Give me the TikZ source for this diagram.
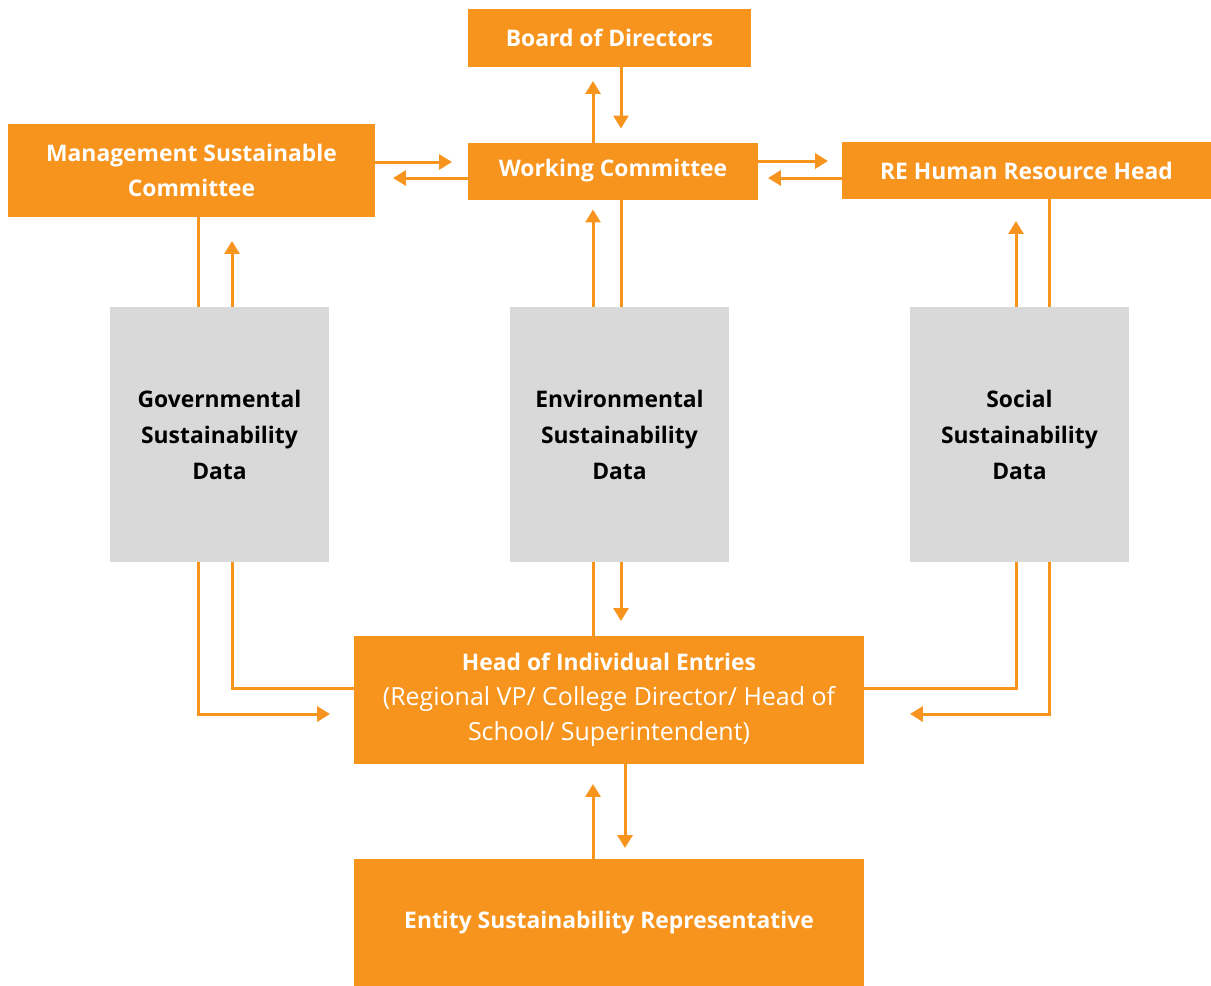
\documentclass[tikz,border=0pt]{standalone}
\usepackage{fontspec}
\setmainfont{Open Sans}[Ligatures=NoCommon]
\usetikzlibrary{arrows.meta,positioning}
\definecolor{reorange}{HTML}{F7941D}
\definecolor{regrey}{HTML}{D9D9D9}
\newcommand{\plainline}{\mdseries\fontsize{14.2}{20}\selectfont}
\tikzset{
  basic/.style  = {rectangle, inner sep=0pt, outer sep=0pt, align=center, font=\fontsize{13}{20}\selectfont},
  unit/.style   = {basic, fill=reorange, text=white, font=\fontsize{13}{20}\selectfont\bfseries},
  data/.style   = {basic, fill=regrey, text=black, font=\fontsize{13}{20.5}\selectfont\bfseries,
                   minimum width=4.38cm, minimum height=5.1cm},
  link/.style   = {draw=reorange, line width=0.06cm},
  flow/.style   = {link, -{Triangle[length=0.26cm,width=0.3cm]}}
}

\begin{document}
\begin{tikzpicture}[x=0.02cm,y=-0.02cm]
  \useasboundingbox (0,0) rectangle (1211,985);

  \node[unit, minimum width=5.66cm, minimum height=1.16cm] (board) at (609.5,38) {Board of Directors};
  \node[unit, minimum width=5.8cm, minimum height=1.14cm] (wc) at (613,171) {Working Committee};
  \node[unit, minimum width=7.34cm, minimum height=1.86cm] (msc) at (191.5,170.5) {Management Sustainable\\Committee};
  \node[unit, minimum width=7.38cm, minimum height=1.14cm] (hr) at (1026.5,170.5) {RE Human Resource Head};

  \node[data] (gov) at (219.5,434.5) {Governmental\\Sustainability\\Data};
  \node[data] (env) at (619.5,434.5) {Environmental\\Sustainability\\Data};
  \node[data] (soc) at (1019.5,434.5) {Social\\Sustainability\\Data};

  \node[unit, minimum width=10.2cm, minimum height=2.56cm] (head) at (609,700)
    {Head of Individual Entries\\\plainline(Regional VP/ College Director/ Head of\\\plainline School/ Superintendent)};
  \node[unit, minimum width=10.2cm, minimum height=2.54cm] (entity) at (609,922.5) {Entity Sustainability Representative};

  % top block
  \draw[flow, shorten >=0.28cm] (wc.north -| 593,0) -- (board.south -| 593,0);
  \draw[flow, shorten >=0.28cm] (board.south -| 621,0) -- (wc.north -| 621,0);
  \draw[flow, shorten >=0.32cm] (msc.east |- 0,162) -- (wc.west |- 0,162);
  \draw[flow, shorten >=0.36cm] (wc.west |- 0,178) -- (msc.east |- 0,178);
  \draw[flow, shorten >=0.28cm] (wc.east |- 0,161) -- (hr.west |- 0,161);
  \draw[flow, shorten >=0.2cm] (hr.west |- 0,178) -- (wc.east |- 0,178);

  % data boxes, upwards
  \draw[link] (msc.south -| 198,0) -- (gov.north -| 198,0);
  \draw[flow, shorten >=0.48cm] (gov.north -| 232,0) -- (msc.south -| 232,0);
  \draw[flow, shorten >=0.2cm] (env.north -| 593,0) -- (wc.south -| 593,0);
  \draw[link] (wc.south -| 621,0) -- (env.north -| 621,0);
  \draw[flow, shorten >=0.44cm] (soc.north -| 1016,0) -- (hr.south -| 1016,0);
  \draw[link] (hr.south -| 1049,0) -- (soc.north -| 1049,0);

  % data boxes, downwards
  \draw[flow, shorten >=0.48cm] (gov.south -| 198,0) |- (head.west |- 0,714);
  \draw[link] (head.west |- 0,688) -| (gov.south -| 232,0);
  \draw[link] (head.north -| 593,0) -- (env.south -| 593,0);
  \draw[flow, shorten >=0.3cm] (env.south -| 621,0) -- (head.north -| 621,0);
  \draw[link] (head.east |- 0,688) -| (soc.south -| 1016,0);
  \draw[flow, shorten >=0.92cm] (soc.south -| 1049,0) |- (head.east |- 0,714);

  % bottom block
  \draw[flow, shorten >=0.4cm] (entity.north -| 593,0) -- (head.south -| 593,0);
  \draw[flow, shorten >=0.22cm] (head.south -| 625,0) -- (entity.north -| 625,0);
\end{tikzpicture}
\end{document}
